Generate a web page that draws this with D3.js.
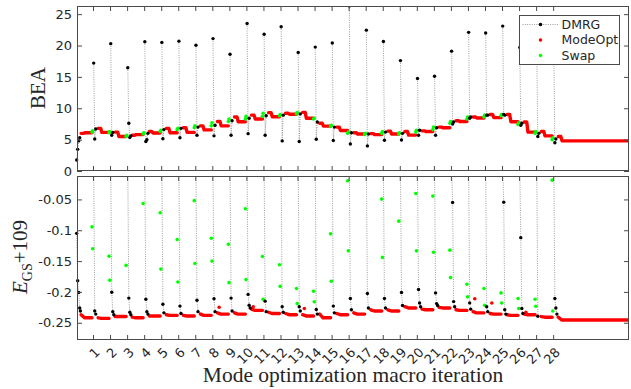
<!DOCTYPE html>
<html>
<head>
<meta charset="utf-8">
<script src="https://cdn.jsdelivr.net/npm/d3@7"></script>
<style>
  body { margin: 0; background: #fff; }
  svg { display: block; }
</style>
</head>
<body>
<svg id="chart" width="631" height="389"></svg>
<script>
// x ticks: macro iterations
const macroTicks = [1, 2, 3, 4, 5, 6, 7, 8, 9, 10, 11, 12, 13, 14, 15, 16, 17, 18, 19, 20, 21, 22, 23, 24, 25, 26, 27, 28];
const beaTicks = [0, 5, 10, 15, 20, 25];
const beaTickLabels = ["0", "5", "10", "15", "20", "25"];
const energyTicks = [-0.25, -0.2, -0.15, -0.1, -0.05];
const energyTickLabels = ["-0.25", "-0.2", "-0.15", "-0.1", "-0.05"];

// BEA, DMRG sweeps of each macro iteration (index 0 = initial DMRG run)
const dmrgBEA = [
  [1.75, 3.45, 4.8, 5.3],
  [17.2, 5.1, 6.7],
  [20.3, 5.7, 6.15],
  [16.45, 7.6, 5.35, 5.6],
  [20.6, 4.7, 5.0, 6.0],
  [20.5, 5.15, 6.6],
  [20.7, 5.3, 6.8],
  [20.05, 5.7, 7.0],
  [21.1, 5.6, 7.3],
  [18.6, 5.7, 8.0],
  [23.5, 5.95, 8.4],
  [21.8, 5.7, 8.8],
  [23.0, 4.8, 8.9],
  [18.9, 4.7, 9.1],
  [19.75, 5.05, 7.8],
  [20.4, 4.85, 7.0],
  [26.3, 4.3, 6.1],
  [22.45, 4.0, 5.9],
  [20.65, 4.9, 6.2],
  [17.6, 4.95, 6.0],
  [14.75, 5.7, 6.5],
  [15.1, 5.7, 6.9],
  [19.1, 7.5, 7.8],
  [22.1, 8.4, 8.6],
  [22.0, 8.9, 8.9],
  [23.1, 9.0, 8.9],
  [19.7, 7.3, 7.6],
  [18.5, 5.5, 6.0],
  [19.0, 4.5, 5.1]
];
// BEA after the swaps that start each macro iteration
const swapBEA = [
  [], [6.2, 6.4], [6.1, 6.3], [5.5, 5.7], [5.9, 6.1], [6.3, 6.5], [6.6, 6.8], [6.9, 7.2],
  [7.2, 7.7], [7.9, 8.3], [8.3, 8.7], [8.7, 9.2], [8.8, 9.0], [9.1, 9.3], [8.3, 8.4],
  [7.1, 7.3], [6.0, 6.2], [5.8, 6.0], [6.0, 6.3], [5.9, 6.1], [6.2, 6.5], [6.6, 7.0],
  [7.6, 7.9], [8.3, 8.6], [8.6, 8.9], [8.8, 9.0], [7.4, 7.7], [6.0, 6.3], [5.0, 5.3]
];
// ModeOpt BEA: first level after DMRG, then the level it settles to
const modeStartBEA = [6.0, 6.8, 6.2, 5.7, 6.3, 6.8, 6.9, 7.2, 7.9, 8.6, 8.9, 9.3, 9.2, 9.35,
  7.6, 7.0, 6.1, 5.95, 6.35, 6.3, 6.4, 7.0, 8.0, 8.6, 9.0, 9.0, 7.8, 6.3, 5.5];
const modeLevelBEA = [6.1, 6.15, 5.5, 5.8, 6.05, 6.1, 6.15, 6.55, 7.2, 7.85, 8.3, 8.65, 9.05, 8.4,
  7.15, 6.45, 5.9, 5.8, 5.9, 5.72, 6.3, 6.9, 7.9, 8.45, 8.5, 7.85, 6.2, 5.6, 4.8];

// E_GS + 109, DMRG sweeps (0 = first sweep, above the visible range)
const dmrgE = [
  [-0.105, -0.182, -0.201, -0.226, -0.231],
  [0, -0.231, -0.236],
  [0, -0.2005, -0.232, -0.237],
  [0, -0.21, -0.233, -0.237],
  [0, -0.212, -0.232, -0.236],
  [0, -0.22, -0.234],
  [0, -0.223, -0.235],
  [0, -0.2135, -0.232],
  [0, -0.211, -0.232],
  [0, -0.21, -0.231],
  [0, -0.204, -0.2216, -0.226],
  [0, -0.215, -0.232],
  [0, -0.224, -0.233],
  [0, -0.224, -0.231],
  [0, -0.2286, -0.236],
  [0, -0.223, -0.234],
  [0, -0.2107, -0.229],
  [0, -0.2026, -0.226],
  [0, -0.2107, -0.226],
  [0, -0.201, -0.222],
  [0, -0.196, -0.218, -0.224],
  [0, -0.2016, -0.219, -0.222],
  [0, -0.0549, -0.2157, -0.224],
  [0, -0.2178, -0.228],
  [0, -0.224, -0.232],
  [0, -0.0544, -0.229, -0.236],
  [0, -0.112, -0.227, -0.235],
  [0, -0.2395],
  [0, -0.2107, -0.226, -0.236]
];
const swapE = [
  [], [-0.0945, -0.13], [-0.142, -0.181], [-0.157], [-0.0565], [-0.0717, -0.163],
  [-0.115, -0.184], [-0.052, -0.154], [-0.113, -0.15], [-0.1226, -0.185], [-0.0652, -0.18],
  [-0.1426, -0.212], [-0.156, -0.191], [-0.1945, -0.219], [-0.199, -0.216], [-0.1058, -0.1826],
  [-0.0198, -0.1334], [], [-0.0495, -0.144], [-0.0852], [-0.0403, -0.1334], [-0.0446, -0.1356],
  [-0.1323, -0.1767], [-0.1875, -0.208], [-0.1945, -0.2216], [-0.2016, -0.218], [-0.2107, -0.227],
  [-0.212, -0.2233], [-0.0187, -0.231]
];
const modeStartE = [-0.237, -0.242, -0.24, -0.241, -0.239, -0.237, -0.238, -0.236, -0.234, -0.234,
  -0.228, -0.233, -0.235, -0.237, -0.236, -0.235, -0.234, -0.229, -0.229, -0.224, -0.228, -0.225,
  -0.229, -0.232, -0.235, -0.237, -0.236, -0.24, -0.241];
const modeLevelE = [-0.242, -0.243, -0.24, -0.242, -0.239, -0.238, -0.239, -0.238, -0.236, -0.236,
  -0.23, -0.235, -0.237, -0.239, -0.242, -0.237, -0.236, -0.231, -0.231, -0.226, -0.229, -0.226,
  -0.23, -0.234, -0.236, -0.238, -0.237, -0.241, -0.2455];
// lone ModeOpt points sitting above the rest
const modeJumpE = [null, null, null, null, null, null, null, null, -0.225, null, -0.224, null, null,
  -0.227, null, null, null, null, null, null, null, null, null, -0.211, -0.218, null, -0.233, null, null];

// offsets of the micro steps inside one macro iteration
const sweepOffsets = [0.04, 0.1, 0.16, 0.22, 0.26];
const swapOffsets = [-0.06, -0.02];
const xEnd = 32.45;

const svg = d3.select("#chart");
const left = 77, right = 629;
const axisColor = "#4a4a4a";
const textColor = "#262626";
const dotColor = "#858585";

const x = d3.scaleLinear().domain([0.06, xEnd]).range([left, right]);
const yTop = d3.scaleLinear().domain([0, 26.3]).range([171, 6]);
const yBot = d3.scaleLinear().domain([-0.278, -0.012]).range([340, 176]);

// clip paths for both panels
const defs = svg.append("defs");
[["clipTop", yTop], ["clipBot", yBot]].forEach(([id, y]) => {
  defs.append("clipPath").attr("id", id)
    .append("rect")
    .attr("x", left - 4).attr("width", right - left + 4)
    .attr("y", y.range()[1]).attr("height", y.range()[0] - y.range()[1]);
});

const line = (y) => d3.line().x((d) => x(d.x)).y((d) => y(d.y));

function drawPanel(y, clipId, dmrg, swap, modeStart, modeLevel, modeJump, flatIndex) {
  const g = svg.append("g").attr("clip-path", `url(#${clipId})`);

  const dmrgPts = dmrg.map((vals, k) => vals.map((v, j) => ({ x: k + sweepOffsets[j], y: v })));
  const swapPts = swap.flatMap((vals, k) => vals.map((v, j) => ({ x: k + swapOffsets[j], y: v })));

  // dotted DMRG line
  g.selectAll(".dmrg-line")
    .data(dmrgPts)
    .enter()
    .append("path")
    .attr("class", "dmrg-line")
    .attr("d", line(y))
    .attr("fill", "none")
    .attr("stroke", dotColor)
    .attr("stroke-width", 0.8)
    .attr("stroke-dasharray", "1,1.3");

  // ModeOpt trail: first level, then the settled level
  const modePts = modeStart.map((s, k) => {
    const end = k === modeStart.length - 1 ? xEnd : k + 0.94;
    return flatIndex
      ? [{ x: k + 0.3, y: s }, { x: k + 0.45, y: s }, { x: k + 0.52, y: modeLevel[k] }, { x: end, y: modeLevel[k] }]
      : [{ x: k + 0.3, y: s }, { x: k + 0.5, y: modeLevel[k] }, { x: end, y: modeLevel[k] }];
  });
  g.selectAll(".mode-line")
    .data(modePts)
    .enter()
    .append("path")
    .attr("class", "mode-line")
    .attr("d", line(y))
    .attr("fill", "none")
    .attr("stroke", "#ff0000")
    .attr("stroke-width", 3.4)
    .attr("stroke-linejoin", "round")
    .attr("stroke-linecap", "round");

  if (modeJump) {
    g.selectAll(".mode-jump")
      .data(modeJump.map((v, k) => ({ x: k + 0.4, y: v })).filter((d) => d.y !== null))
      .enter()
      .append("circle")
      .attr("cx", (d) => x(d.x))
      .attr("cy", (d) => y(d.y))
      .attr("r", 1.8)
      .attr("fill", "#ff0000");
  }

  g.selectAll(".swap-pt")
    .data(swapPts)
    .enter()
    .append("circle")
    .attr("class", "swap-pt")
    .attr("cx", (d) => x(d.x))
    .attr("cy", (d) => y(d.y))
    .attr("r", 1.8)
    .attr("fill", "#00ff00");

  g.selectAll(".dmrg-pt")
    .data(dmrgPts.flat())
    .enter()
    .append("circle")
    .attr("class", "dmrg-pt")
    .attr("cx", (d) => x(d.x))
    .attr("cy", (d) => y(d.y))
    .attr("r", 1.7)
    .attr("fill", "#000");
}

function drawAxes(y, ticks, labels, showX) {
  const [y1, y0] = y.range();
  const style = (sel) => {
    sel.select(".domain").remove();
    sel.selectAll("line").attr("stroke", axisColor);
    sel.selectAll("text")
      .style("font-family", "'DejaVu Sans', sans-serif")
      .style("font-size", "13px")
      .attr("fill", textColor);
  };
  svg.append("g").attr("transform", `translate(${left},0)`)
    .call(d3.axisLeft(y).tickValues(ticks).tickSize(-5).tickPadding(5).tickFormat((d, i) => labels[i]))
    .call(style);
  svg.append("g").attr("transform", `translate(${right},0)`)
    .call(d3.axisRight(y).tickValues(ticks).tickSize(-5).tickFormat(""))
    .call(style);
  svg.append("g").attr("transform", `translate(0,${y0})`)
    .call(d3.axisTop(x).tickValues(macroTicks).tickSize(-5).tickFormat(""))
    .call(style);
  const bottom = svg.append("g").attr("transform", `translate(0,${y1})`)
    .call(d3.axisBottom(x).tickValues(macroTicks).tickSize(-5).tickFormat(showX ? (d) => String(d) : ""))
    .call(style);
  if (showX) {
    bottom.selectAll("text")
      .attr("y", 0).attr("dy", 0)
      .attr("text-anchor", "end")
      .attr("dominant-baseline", "central")
      .attr("transform", "translate(4,10) rotate(-45)")
      .style("font-size", "13px");
  }
  svg.append("rect")
    .attr("x", left + 0.5).attr("y", y0 + 0.5)
    .attr("width", right - left - 1).attr("height", y1 - y0 - 1)
    .attr("fill", "none")
    .attr("stroke", axisColor)
    .attr("stroke-width", 1);
}

drawPanel(yTop, "clipTop", dmrgBEA, swapBEA, modeStartBEA, modeLevelBEA, null, true);
drawPanel(yBot, "clipBot", dmrgE, swapE, modeStartE, modeLevelE, modeJumpE, false);
drawAxes(yTop, beaTicks, beaTickLabels, false);
drawAxes(yBot, energyTicks, energyTickLabels, true);

// axis titles
const serif = "'Liberation Serif', 'Times New Roman', serif";
svg.append("text")
  .attr("transform", "translate(45,88) rotate(-90)")
  .attr("text-anchor", "middle")
  .style("font-family", serif)
  .style("font-size", "21px")
  .attr("fill", textColor)
  .text("BEA");

const eLabel = svg.append("text")
  .attr("transform", "translate(27,257) rotate(-90)")
  .attr("text-anchor", "middle")
  .style("font-family", serif)
  .style("font-size", "21px")
  .attr("fill", textColor);
eLabel.append("tspan").style("font-style", "italic").text("E");
eLabel.append("tspan").attr("dy", 5).style("font-size", "14px").text("GS");
eLabel.append("tspan").attr("dy", -5).text("+109");

svg.append("text")
  .attr("x", (left + right) / 2)
  .attr("y", 382)
  .attr("text-anchor", "middle")
  .style("font-family", serif)
  .style("font-size", "21.5px")
  .attr("fill", textColor)
  .text("Mode optimization macro iteration");

// legend
const legendItems = ["DMRG", "ModeOpt", "Swap"];
const legendColors = ["#000", "#ff0000", "#00ff00"];
const legend = svg.append("g").attr("transform", "translate(519.5,15.5)");
legend.append("rect")
  .attr("width", 100).attr("height", 49)
  .attr("fill", "#fff")
  .attr("stroke", axisColor);
legendItems.forEach((name, i) => {
  const row = legend.append("g").attr("transform", `translate(0,${9 + i * 15.5})`);
  if (name === "DMRG") {
    row.append("line")
      .attr("x1", 3).attr("x2", 39)
      .attr("stroke", dotColor).attr("stroke-width", 0.8)
      .attr("stroke-dasharray", "1,1.3");
  }
  row.append("circle").attr("cx", 21).attr("r", 1.8).attr("fill", legendColors[i]);
  row.append("text")
    .attr("x", 42)
    .attr("dy", "0.35em")
    .style("font-family", "'DejaVu Sans', sans-serif")
    .style("font-size", "12.5px")
    .attr("fill", textColor)
    .text(name);
});
</script>
</body>
</html>
